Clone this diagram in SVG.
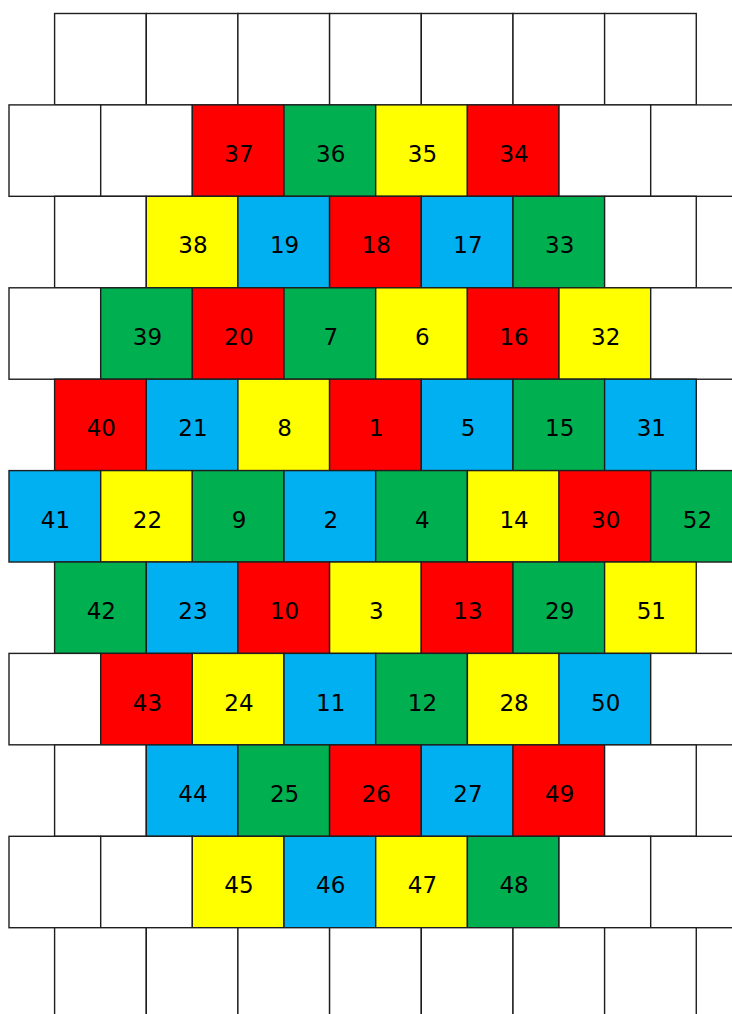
<svg xmlns="http://www.w3.org/2000/svg" width="732" height="1014" viewBox="0 0 732 1014">
<style>
rect{stroke:#1e1e1e;stroke-width:1.4}
.w{fill:#FFFFFF}.r{fill:#FF0000}.g{fill:#00B050}.y{fill:#FFFF00}.b{fill:#00B0F0}
text{font-family:"DejaVu Sans","Verdana",sans-serif;font-size:23px;fill:#000;text-anchor:middle}
</style>
<rect x="0" y="0" width="732" height="1014" fill="#FFFFFF" style="stroke:none"/>
<g id="row0">
<g id="c0-0"><rect class="w" x="54.6" y="13.5" width="91.67" height="91.42"/></g>
<g id="c0-1"><rect class="w" x="146.3" y="13.5" width="91.67" height="91.42"/></g>
<g id="c0-2"><rect class="w" x="237.9" y="13.5" width="91.67" height="91.42"/></g>
<g id="c0-3"><rect class="w" x="329.6" y="13.5" width="91.67" height="91.42"/></g>
<g id="c0-4"><rect class="w" x="421.3" y="13.5" width="91.67" height="91.42"/></g>
<g id="c0-5"><rect class="w" x="513" y="13.5" width="91.67" height="91.42"/></g>
<g id="c0-6"><rect class="w" x="604.6" y="13.5" width="91.67" height="91.42"/></g>
</g>
<g id="row1">
<g id="c1-0"><rect class="w" x="9" y="104.9" width="91.67" height="91.42"/></g>
<g id="c1-1"><rect class="w" x="100.7" y="104.9" width="91.67" height="91.42"/></g>
<g id="n37"><rect class="r" x="192.3" y="104.9" width="91.67" height="91.42"/><text x="239" y="162">37</text></g>
<g id="n36"><rect class="g" x="284" y="104.9" width="91.67" height="91.42"/><text x="330.7" y="162">36</text></g>
<g id="n35"><rect class="y" x="375.7" y="104.9" width="91.67" height="91.42"/><text x="422.4" y="162">35</text></g>
<g id="n34"><rect class="r" x="467.4" y="104.9" width="91.67" height="91.42"/><text x="514.1" y="162">34</text></g>
<g id="c1-6"><rect class="w" x="559" y="104.9" width="91.67" height="91.42"/></g>
<g id="c1-7"><rect class="w" x="650.7" y="104.9" width="91.67" height="91.42"/></g>
</g>
<g id="row2">
<g id="c2-0"><rect class="w" x="54.6" y="196.3" width="91.67" height="91.42"/></g>
<g id="n38"><rect class="y" x="146.3" y="196.3" width="91.67" height="91.42"/><text x="193" y="253.4">38</text></g>
<g id="n19"><rect class="b" x="237.9" y="196.3" width="91.67" height="91.42"/><text x="284.6" y="253.4">19</text></g>
<g id="n18"><rect class="r" x="329.6" y="196.3" width="91.67" height="91.42"/><text x="376.3" y="253.4">18</text></g>
<g id="n17"><rect class="b" x="421.3" y="196.3" width="91.67" height="91.42"/><text x="468" y="253.4">17</text></g>
<g id="n33"><rect class="g" x="513" y="196.3" width="91.67" height="91.42"/><text x="559.7" y="253.4">33</text></g>
<g id="c2-6"><rect class="w" x="604.6" y="196.3" width="91.67" height="91.42"/></g>
</g>
<g id="row3">
<g id="c3-0"><rect class="w" x="9" y="287.8" width="91.67" height="91.42"/></g>
<g id="n39"><rect class="g" x="100.7" y="287.8" width="91.67" height="91.42"/><text x="147.4" y="344.9">39</text></g>
<g id="n20"><rect class="r" x="192.3" y="287.8" width="91.67" height="91.42"/><text x="239" y="344.9">20</text></g>
<g id="n7"><rect class="g" x="284" y="287.8" width="91.67" height="91.42"/><text x="330.7" y="344.9">7</text></g>
<g id="n6"><rect class="y" x="375.7" y="287.8" width="91.67" height="91.42"/><text x="422.4" y="344.9">6</text></g>
<g id="n16"><rect class="r" x="467.4" y="287.8" width="91.67" height="91.42"/><text x="514.1" y="344.9">16</text></g>
<g id="n32"><rect class="y" x="559" y="287.8" width="91.67" height="91.42"/><text x="605.7" y="344.9">32</text></g>
<g id="c3-7"><rect class="w" x="650.7" y="287.8" width="91.67" height="91.42"/></g>
</g>
<g id="row4">
<g id="n40"><rect class="r" x="54.6" y="379.2" width="91.67" height="91.42"/><text x="101.3" y="436.3">40</text></g>
<g id="n21"><rect class="b" x="146.3" y="379.2" width="91.67" height="91.42"/><text x="193" y="436.3">21</text></g>
<g id="n8"><rect class="y" x="237.9" y="379.2" width="91.67" height="91.42"/><text x="284.6" y="436.3">8</text></g>
<g id="n1"><rect class="r" x="329.6" y="379.2" width="91.67" height="91.42"/><text x="376.3" y="436.3">1</text></g>
<g id="n5"><rect class="b" x="421.3" y="379.2" width="91.67" height="91.42"/><text x="468" y="436.3">5</text></g>
<g id="n15"><rect class="g" x="513" y="379.2" width="91.67" height="91.42"/><text x="559.7" y="436.3">15</text></g>
<g id="n31"><rect class="b" x="604.6" y="379.2" width="91.67" height="91.42"/><text x="651.3" y="436.3">31</text></g>
</g>
<g id="row5">
<g id="n41"><rect class="b" x="9" y="470.6" width="91.67" height="91.42"/><text x="55.4" y="527.7">41</text></g>
<g id="n22"><rect class="y" x="100.7" y="470.6" width="91.67" height="91.42"/><text x="147.4" y="527.7">22</text></g>
<g id="n9"><rect class="g" x="192.3" y="470.6" width="91.67" height="91.42"/><text x="239" y="527.7">9</text></g>
<g id="n2"><rect class="b" x="284" y="470.6" width="91.67" height="91.42"/><text x="330.7" y="527.7">2</text></g>
<g id="n4"><rect class="g" x="375.7" y="470.6" width="91.67" height="91.42"/><text x="422.4" y="527.7">4</text></g>
<g id="n14"><rect class="y" x="467.4" y="470.6" width="91.67" height="91.42"/><text x="514.1" y="527.7">14</text></g>
<g id="n30"><rect class="r" x="559" y="470.6" width="91.67" height="91.42"/><text x="605.7" y="527.7">30</text></g>
<g id="n52"><rect class="g" x="650.7" y="470.6" width="91.67" height="91.42"/><text x="697.4" y="527.7">52</text></g>
</g>
<g id="row6">
<g id="n42"><rect class="g" x="54.6" y="562" width="91.67" height="91.42"/><text x="101.3" y="619.1">42</text></g>
<g id="n23"><rect class="b" x="146.3" y="562" width="91.67" height="91.42"/><text x="193" y="619.1">23</text></g>
<g id="n10"><rect class="r" x="237.9" y="562" width="91.67" height="91.42"/><text x="284.6" y="619.1">10</text></g>
<g id="n3"><rect class="y" x="329.6" y="562" width="91.67" height="91.42"/><text x="376.3" y="619.1">3</text></g>
<g id="n13"><rect class="r" x="421.3" y="562" width="91.67" height="91.42"/><text x="468" y="619.1">13</text></g>
<g id="n29"><rect class="g" x="513" y="562" width="91.67" height="91.42"/><text x="559.7" y="619.1">29</text></g>
<g id="n51"><rect class="y" x="604.6" y="562" width="91.67" height="91.42"/><text x="651.3" y="619.1">51</text></g>
</g>
<g id="row7">
<g id="c7-0"><rect class="w" x="9" y="653.4" width="91.67" height="91.42"/></g>
<g id="n43"><rect class="r" x="100.7" y="653.4" width="91.67" height="91.42"/><text x="147.4" y="710.5">43</text></g>
<g id="n24"><rect class="y" x="192.3" y="653.4" width="91.67" height="91.42"/><text x="239" y="710.5">24</text></g>
<g id="n11"><rect class="b" x="284" y="653.4" width="91.67" height="91.42"/><text x="330.7" y="710.5">11</text></g>
<g id="n12"><rect class="g" x="375.7" y="653.4" width="91.67" height="91.42"/><text x="422.4" y="710.5">12</text></g>
<g id="n28"><rect class="y" x="467.4" y="653.4" width="91.67" height="91.42"/><text x="514.1" y="710.5">28</text></g>
<g id="n50"><rect class="b" x="559" y="653.4" width="91.67" height="91.42"/><text x="605.7" y="710.5">50</text></g>
<g id="c7-7"><rect class="w" x="650.7" y="653.4" width="91.67" height="91.42"/></g>
</g>
<g id="row8">
<g id="c8-0"><rect class="w" x="54.6" y="744.9" width="91.67" height="91.42"/></g>
<g id="n44"><rect class="b" x="146.3" y="744.9" width="91.67" height="91.42"/><text x="193" y="802">44</text></g>
<g id="n25"><rect class="g" x="237.9" y="744.9" width="91.67" height="91.42"/><text x="284.6" y="802">25</text></g>
<g id="n26"><rect class="r" x="329.6" y="744.9" width="91.67" height="91.42"/><text x="376.3" y="802">26</text></g>
<g id="n27"><rect class="b" x="421.3" y="744.9" width="91.67" height="91.42"/><text x="468" y="802">27</text></g>
<g id="n49"><rect class="r" x="513" y="744.9" width="91.67" height="91.42"/><text x="559.7" y="802">49</text></g>
<g id="c8-6"><rect class="w" x="604.6" y="744.9" width="91.67" height="91.42"/></g>
</g>
<g id="row9">
<g id="c9-0"><rect class="w" x="9" y="836.3" width="91.67" height="91.42"/></g>
<g id="c9-1"><rect class="w" x="100.7" y="836.3" width="91.67" height="91.42"/></g>
<g id="n45"><rect class="y" x="192.3" y="836.3" width="91.67" height="91.42"/><text x="239" y="893.4">45</text></g>
<g id="n46"><rect class="b" x="284" y="836.3" width="91.67" height="91.42"/><text x="330.7" y="893.4">46</text></g>
<g id="n47"><rect class="y" x="375.7" y="836.3" width="91.67" height="91.42"/><text x="422.4" y="893.4">47</text></g>
<g id="n48"><rect class="g" x="467.4" y="836.3" width="91.67" height="91.42"/><text x="514.1" y="893.4">48</text></g>
<g id="c9-6"><rect class="w" x="559" y="836.3" width="91.67" height="91.42"/></g>
<g id="c9-7"><rect class="w" x="650.7" y="836.3" width="91.67" height="91.42"/></g>
</g>
<g id="row10">
<g id="c10-0"><rect class="w" x="54.6" y="927.7" width="91.67" height="91.42"/></g>
<g id="c10-1"><rect class="w" x="146.3" y="927.7" width="91.67" height="91.42"/></g>
<g id="c10-2"><rect class="w" x="237.9" y="927.7" width="91.67" height="91.42"/></g>
<g id="c10-3"><rect class="w" x="329.6" y="927.7" width="91.67" height="91.42"/></g>
<g id="c10-4"><rect class="w" x="421.3" y="927.7" width="91.67" height="91.42"/></g>
<g id="c10-5"><rect class="w" x="513" y="927.7" width="91.67" height="91.42"/></g>
<g id="c10-6"><rect class="w" x="604.6" y="927.7" width="91.67" height="91.42"/></g>
</g>
<g id="connectors"/>
</svg>
